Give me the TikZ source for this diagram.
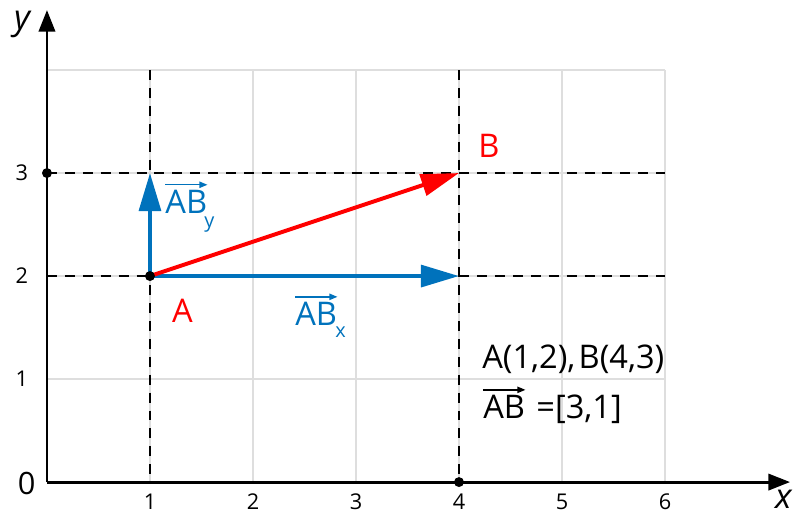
\documentclass[tikz,border=0pt]{standalone}
\usepackage{fontspec}
\setmainfont{Open Sans}
\usetikzlibrary{arrows.meta}
\definecolor{vblue}{RGB}{0,114,188}
\definecolor{vred}{RGB}{255,0,0}
\definecolor{gridgray}{RGB}{222,222,222}
\begin{document}
\begin{tikzpicture}[x=2cm,y=2cm,
  gridline/.style={gridgray,line width=0.7pt},
  axis/.style={line width=1.6pt,-{Triangle[length=12pt,width=9pt]}},
  guide/.style={line width=1.5pt,dash pattern=on 5.5pt off 4.4pt},
  vec/.style={line width=2.2pt,-{Triangle[length=21pt,width=12pt]}},
  dot/.style={circle,fill=black,inner sep=0pt,minimum size=5.5pt},
  tick/.style={font=\fontsize{12}{14}\selectfont,inner sep=0pt},
  lab/.style={font=\fontsize{18}{21}\selectfont,inner sep=0pt},
  sub/.style={font=\fontsize{11}{13}\selectfont,inner sep=0pt},
  axlab/.style={font=\fontsize{19}{22}\selectfont\itshape,inner sep=0pt},
  over/.style={line width=0.8pt,-{Triangle[length=4.5pt,width=3.5pt]}},
]
\useasboundingbox (-0.456,-0.301) rectangle (7.262,4.680);
\draw[gridline,step=2cm] (0,0) grid (6,4);
% coordinates
\coordinate (O) at (0,0);
\coordinate (XE) at (7.214,0);
\coordinate (YE) at (0,4.583);
\coordinate (A) at (1,2);
\coordinate (B) at (4,3);
\coordinate (Bx) at (4,2);
\coordinate (Ay) at (1,3);
\coordinate (V1t) at (1,4);
\coordinate (V1b) at (1,0);
\coordinate (V4t) at (4,4);
\coordinate (V4b) at (4,0);
\coordinate (H3l) at (0,3);
\coordinate (H3r) at (6,3);
\coordinate (H2l) at (0,2);
\coordinate (H2r) at (6,2);
% guides
\draw[guide] (V1t) -- (V1b);
\draw[guide] (V4t) -- (V4b);
\draw[guide] (H3l) -- (H3r);
\draw[guide] (H2l) -- (H2r);
% axes
\draw[axis] (O) -- (XE);
\draw[axis] (O) -- (YE);
% vectors
\draw[vec,vblue] (A) -- (Bx);
\draw[vec,vblue] (A) -- (Ay);
\draw[vec,vred] (A) -- (B);
% dots
\node[dot] (dA) at (A) {};
\node[dot] (d03) at (0,3) {};
\node[dot] (d40) at (4,0) {};
% ticks
\node[tick] (t1) at (1,-0.194) {1};
\node[tick] (t2) at (2,-0.194) {2};
\node[tick] (t3) at (3,-0.194) {3};
\node[tick] (t4) at (4,-0.194) {4};
\node[tick] (t5) at (5,-0.194) {5};
\node[tick] (t6) at (6,-0.194) {6};
\node[tick] (u1) at (-0.243,1) {1};
\node[tick] (u2) at (-0.243,2) {2};
\node[tick] (u3) at (-0.243,3) {3};
\node[lab,font=\fontsize{17}{20}\selectfont] (zero) at (-0.197,-0.01) {0};
\node[axlab,anchor=base] (ylab) at (-0.243,4.398) {y};
\node[axlab,anchor=base] (xlab) at (7.15,-0.26) {x};
% point labels
\node[lab,vred,anchor=base] (labA) at (1.316,1.553) {A};
\node[lab,vred,anchor=base west] (labB) at (4.184,3.155) {B};
% vector labels
\node[lab,vblue,anchor=base west] (abx) at (2.408,1.524) {AB};
\node[sub,vblue,anchor=base west] (abxs) at (2.796,1.408) {x};
\draw[over,vblue] ([yshift=2.5pt]abx.north west) -- ([yshift=2.5pt]abx.north east);
\node[lab,vblue,anchor=base west] (aby) at (1.146,2.612) {AB};
\node[sub,vblue,anchor=base west] (abys) at (1.524,2.476) {y};
\draw[over,vblue] ([yshift=2.5pt]aby.north west) -- ([yshift=2.5pt]aby.north east);
% info
\node[lab,anchor=base west] (info1) at (4.223,1.107) {A(1,2),\hspace{0.1em}B(4,3)};
\node[lab,anchor=base west] (info2) at (4.233,0.621) {AB};
\draw[over] ([yshift=2.5pt]info2.north west) -- ([yshift=2.5pt]info2.north east);
\node[lab,anchor=base west] (info3) at (4.748,0.621) {=[3,1]};
\end{tikzpicture}
\end{document}
